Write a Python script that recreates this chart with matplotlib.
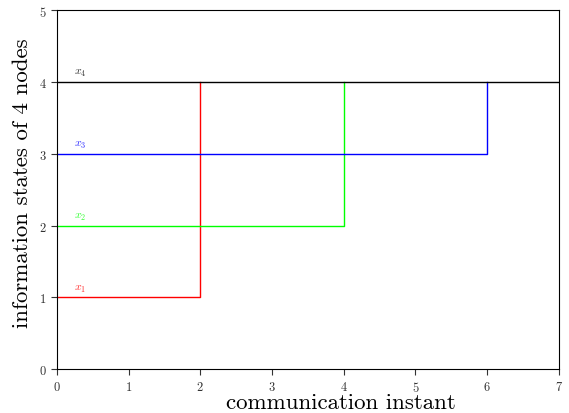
import matplotlib
matplotlib.use("Agg")
import matplotlib.pyplot as plt

# Dados
nos = ['x_1', 'x_2', 'x_3', 'x_4']
estado_inicial = [1, 2, 3, 4]
instante_troca = [2, 4, 6, 7]
estado_final = 4
cores = ['red', 'lime', 'blue', 'black']
xticks = [0, 1, 2, 3, 4, 5, 6, 7]
yticks = [0, 1, 2, 3, 4, 5]

plt.rcParams['font.family'] = 'serif'
plt.rcParams['font.serif'] = ['cmr10']
plt.rcParams['mathtext.fontset'] = 'cm'
plt.rcParams['axes.formatter.use_mathtext'] = True

fig = plt.figure(figsize=(5.69, 4.14), dpi=100)
ax = fig.add_axes([0.100, 0.106, 0.882, 0.867])

for no, y0, t, cor in zip(nos, estado_inicial, instante_troca, cores):
    ax.plot([0, t, t], [y0, y0, estado_final], color=cor, linewidth=1)
    ax.text(0.33, y0 + 0.05, '$' + no + '$', color=cor, fontsize=8.5,
            va='bottom', ha='center', alpha=0.8)

ax.set_xlim(0, 7)
ax.set_ylim(0, 5)
ax.set_xticks(xticks)
ax.set_yticks(yticks)
ax.tick_params(labelsize=9, direction='out', top=False, right=False,
               length=4, colors='#333333')
ax.set_xlabel('communication instant', fontsize=16.5)
ax.set_ylabel('information states of 4 nodes', fontsize=16.5)
ax.xaxis.set_label_coords(0.566, -0.066)
ax.yaxis.set_label_coords(-0.05, 0.52)

plt.savefig('out.png', dpi=100)
